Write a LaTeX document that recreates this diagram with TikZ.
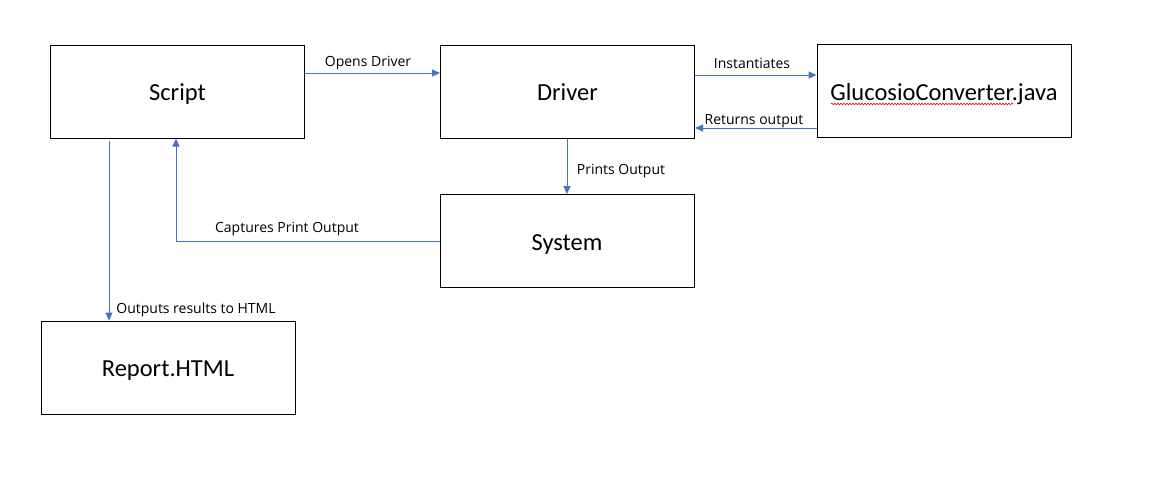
\documentclass[tikz,border=0pt]{standalone}
\usepackage{fontspec}
\setmainfont{Carlito}
\newfontfamily\lblfont{Open Sans}
\usetikzlibrary{arrows.meta,decorations.pathmorphing}
\definecolor{arrowblue}{HTML}{4472C4}
\begin{document}
\begin{tikzpicture}[x=1pt,y=-1pt,
  box/.style={draw=black,line width=1pt,fill=white,minimum width=254pt,minimum height=93pt,inner sep=0pt,text height=20pt,text depth=2pt,font=\fontsize{24.5}{28}\selectfont},
  conn/.style={draw=arrowblue,line width=1pt,-{Triangle[length=8pt,width=7pt]}},
  lbl/.style={font=\lblfont\fontsize{14}{16}\selectfont,inner sep=0pt,text=black,yshift=-2pt}]
\useasboundingbox[fill=white] (0,0) rectangle (1154,480);
\node[box] (S) at (177.5,91.5) {Script};
\node[box] (D) at (567.5,91.5) {Driver};
\node[box] (G) at (944,91) {GlucosioConverter.java};
\node[box] (Y) at (567,241) {System};
\node[box] (R) at (168,367.5) {Report.HTML};
\draw[red!85!black,line width=0.6pt,decorate,decoration={snake,amplitude=0.8pt,segment length=3pt}] (831,104) -- (1013,104);
\draw[conn] (S.east |- 0,73) -- (D.west |- 0,73);
\node[lbl] (l1) at (368,61) {Opens Driver};
\draw[conn] (D.east |- 0,75) -- (G.west |- 0,75);
\node[lbl] (l2) at (752,61) {Instantiates};
\draw[conn] (G.west |- 0,128) -- (D.east |- 0,128);
\node[lbl] (l3) at (754,119) {Returns output};
\draw[conn] (D.south -| 567,0) -- (Y.north);
\node[lbl] (l4) at (621,169) {Prints Output};
\coordinate (c1) at (176,241);
\draw[conn] (Y.west) -- (c1) -- (S.south -| c1);
\node[lbl] (l5) at (287,227) {Captures Print Output};
\coordinate (c2) at (109,141);
\draw[conn] (c2) -- (R.north -| c2);
\node[lbl] (l6) at (196,308) {Outputs results to HTML};
\end{tikzpicture}
\end{document}
